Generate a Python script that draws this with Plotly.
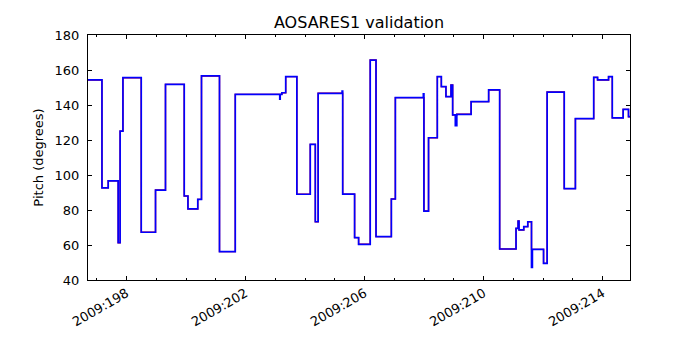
import plotly.graph_objects as go

# Day-of-year 2009 (segment start times) and pitch values (degrees)
day = [196.70, 197.175, 197.385, 197.72, 197.785, 197.88, 198.495, 198.975, 199.31,
       199.94, 200.065, 200.395, 200.52, 201.125, 201.655, 203.15, 203.165, 203.22,
       203.35, 203.725, 204.175, 204.345, 204.44, 205.245, 205.265, 205.665, 205.80,
       206.19, 206.385, 206.90, 207.035, 207.975, 207.995, 208.15, 208.445, 208.58,
       208.735, 208.905, 208.96, 209.05, 209.10, 209.58, 210.17, 210.54, 211.09,
       211.16, 211.19, 211.35, 211.485, 211.61, 211.64, 212.015, 212.135, 212.71,
       213.085, 213.70, 213.83, 214.20, 214.325, 214.69, 214.87, 214.95]
pitch_tlm = [154.3, 92.7, 96.7, 61.3, 125.1, 155.6, 67.3, 91.4, 151.8,
             88.0, 80.6, 86.1, 156.6, 56.2, 146.1, 143.4, 146.1, 147.0,
             156.2, 89.0, 117.5, 73.3, 146.7, 148.0, 89.1, 64.2, 60.4,
             165.7, 64.8, 86.3, 144.2, 146.3, 79.4, 121.3, 156.2, 150.5,
             144.8, 151.4, 134.3, 128.2, 134.7, 141.9, 148.6, 57.7, 69.5,
             73.7, 68.6, 70.5, 73.3, 47.2, 57.5, 49.5, 147.4, 92.2,
             132.2, 155.8, 154.3, 156.2, 132.7, 137.5, 133.3, 133.3]
pitch_model = [154.3, 92.7, 96.7, 61.3, 125.1, 155.6, 67.3, 91.4, 151.8,
               88.0, 80.6, 86.1, 156.6, 56.2, 146.1, 146.1, 146.1, 147.0,
               156.2, 89.0, 117.5, 73.3, 146.7, 146.7, 89.1, 64.2, 60.4,
               165.7, 64.8, 86.3, 144.2, 144.2, 79.4, 121.3, 156.2, 150.5,
               144.8, 151.4, 134.3, 134.3, 134.7, 141.9, 148.6, 57.7, 69.5,
               73.7, 68.6, 70.5, 73.3, 57.5, 57.5, 49.5, 147.4, 92.2,
               132.2, 155.8, 154.3, 156.2, 132.7, 137.5, 133.3, 133.3]

major_days = [198, 202, 206, 210, 214]
major_labels = ["2009:198", "2009:202", "2009:206", "2009:210", "2009:214"]
minor_days = list(range(197, 215))
y_ticks = [40, 60, 80, 100, 120, 140, 160, 180]

fig = go.Figure()
fig.add_trace(go.Scatter(x=day, y=pitch_model, mode="lines", line_shape="hv",
                         line=dict(color="#ff0000", width=1.4), showlegend=False))
fig.add_trace(go.Scatter(x=day, y=pitch_tlm, mode="lines", line_shape="hv",
                         line=dict(color="#0000ff", width=1.7), showlegend=False))

font = dict(family="DejaVu Sans", size=13, color="black")
fig.update_layout(
    template="none",
    width=700, height=350,
    margin=dict(l=88, r=70, t=35, b=70, pad=0),
    paper_bgcolor="white", plot_bgcolor="white",
    font=font,
    title=dict(text="AOSARES1 validation", x=0.5, xref="paper", xanchor="center",
               y=1 - 22 / 350, yref="container", yanchor="middle",
               font=dict(family="DejaVu Sans", size=16, color="black")),
    xaxis=dict(range=[196.706, 214.92], tickmode="array", tickvals=major_days,
               ticktext=major_labels, tickangle=-30, ticks="inside", ticklen=4,
               tickcolor="black", showline=True, linecolor="black", linewidth=1,
               mirror="allticks", showgrid=False, zeroline=False, automargin=False,
               tickfont=font,
               minor=dict(tickmode="array", tickvals=minor_days, ticks="inside",
                          ticklen=2, tickcolor="black", showgrid=False)),
    yaxis=dict(range=[40, 180], tickmode="array", tickvals=y_ticks,
               ticks="inside", ticklen=4, tickcolor="black", showline=True,
               linecolor="black", linewidth=1, mirror="allticks", showgrid=False,
               zeroline=False, automargin=False, tickfont=font, ticklabelstandoff=5,
               title=dict(text="Pitch (degrees)", font=font, standoff=8)),
)

fig.write_html("out.html", config={"displayModeBar": False},
               post_script="document.body.style.margin='0';")
